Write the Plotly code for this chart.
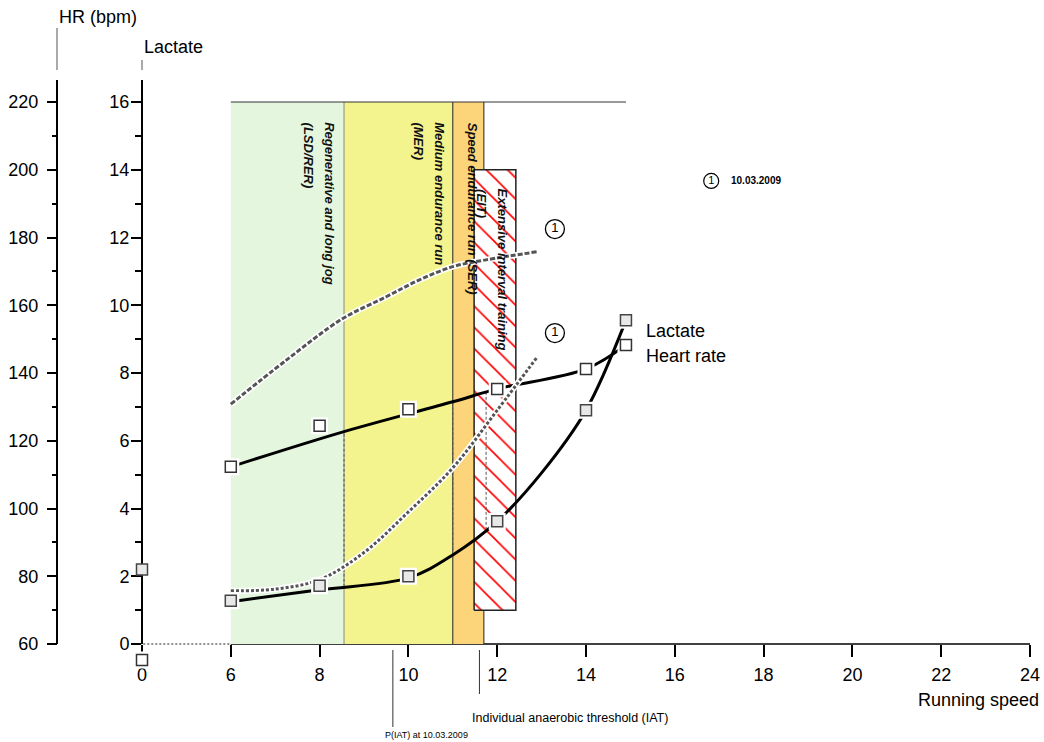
import plotly.graph_objects as go

# ---------------- data ----------------
speed = [6, 8, 10, 12, 14, 14.9]                       # km/h test stages
lactate = [1.28, 1.72, 2.0, 3.62, 6.9, 9.56]            # mmol/l
heart_rate = [112.3, 124.4, 129.3, 135.3, 141.2, 148.3]  # bpm
rest_speed = [0]
rest_lactate = [2.2]
rest_hr = [55.3]

# fitted curves of the current test
lac_fit_x = [6, 8, 10, 11, 12, 13, 14, 14.9]
lac_fit_y = [1.25, 1.6, 1.95, 2.63, 3.62, 5.05, 6.9, 9.56]
hr_fit_x = [6, 8.55, 11, 12, 14, 14.9]
hr_fit_y = [112.3, 122.7, 131.5, 135.3, 141.2, 148.3]

# previous test (1) 10.03.2009
prev_lac_x = [6, 7, 8, 9, 10, 11, 12, 12.9]
prev_lac_y = [1.57, 1.62, 1.9, 2.7, 3.9, 5.2, 6.9, 8.47]
prev_hr_x = [6, 7.25, 8.5, 9.5, 10.25, 11, 11.75, 12.9]
prev_hr_y = [130.8, 143.8, 155.9, 162.5, 167.5, 171.4, 173.4, 175.8]

# training zones (speed edges, HR extent)
zone_edges = [6, 8.55, 11.0, 11.7]
zone_colors = ["#E4F6DE", "#F4F48E", "#FCD47A"]
zone_hr = [60, 220]
zone_line_colors = ["#888888", "#222222", "#222222"]
eit_x = [11.48, 12.42]
eit_hr = [70, 200]
top_line_x = [6, 14.9]

# drop lines between HR and lactate curves (speed, HR low, HR high)
drop_x = [8.55, 11.0, 11.75]
drop_lo = [76.9, 87.7, 93.7]
drop_hi = [122.7, 132.0, 134.1]

iat = 11.6
p_iat = 9.65

x_tickvals = [0, 6, 8, 10, 12, 14, 16, 18, 20, 22, 24]
lac_ticks = list(range(0, 17, 2))
hr_ticks = list(range(60, 221, 20))

# ---------------- layout helpers ----------------
W, H = 1044, 742
ML, MR, MT, MB = 57, 14, 80, 74
plot_w = W - ML - MR
plot_h = H - MT - MB
dom0 = 85 / plot_w
X_MIN, X_MAX = 4, 24            # broken axis: value 0 is drawn at position 4
L_MIN, L_MAX = -24 / 33.875, 16 + 22 / 33.875
HR_MIN, HR_MAX = 60 + 10 * L_MIN, 60 + 10 * L_MAX
x_axis_pos = (0 - L_MIN) / (L_MAX - L_MIN)


def dx(v):
    return X_MIN if v == 0 else v


def px(v):  # x data -> paper
    return dom0 + (dx(v) - X_MIN) / (X_MAX - X_MIN) * (1 - dom0)


def py(pix):  # screen pixel y -> paper
    return (H - MB - pix) / plot_h


FONT = "Liberation Sans, Arial, sans-serif"
fig = go.Figure()

# EIT hatched box (HR axis = main)
fig.add_trace(go.Scatter(
    x=[eit_x[0], eit_x[1], eit_x[1], eit_x[0], eit_x[0]],
    y=[eit_hr[0], eit_hr[0], eit_hr[1], eit_hr[1], eit_hr[0]],
    mode="lines", fill="toself", fillcolor="white",
    fillpattern=dict(shape="\\", fgcolor="#FF0000", bgcolor="white",
                     size=15, solidity=0.11),
    line=dict(color="#222222", width=1.5), hoverinfo="skip", showlegend=False))

# drop lines
for xv, lo, hi in zip(drop_x, drop_lo, drop_hi):
    fig.add_trace(go.Scatter(x=[xv, xv], y=[lo, hi], mode="lines",
                             line=dict(color="#555555", width=1, dash="3px,2px"),
                             showlegend=False, hoverinfo="skip"))

# ---- heart rate (main y axis) ----
hx = [dx(v) for v in rest_speed + speed]
hy = rest_hr + heart_rate
fig.add_trace(go.Scatter(x=prev_hr_x, y=prev_hr_y, mode="lines", line_shape="spline",
                         line=dict(color="white", width=6), showlegend=False))
fig.add_trace(go.Scatter(x=prev_hr_x, y=prev_hr_y, mode="lines", line_shape="spline",
                         line=dict(color="#555555", width=3, dash="5px,2px"), showlegend=False))
fig.add_trace(go.Scatter(x=hr_fit_x, y=hr_fit_y, mode="lines", line_shape="spline",
                         line=dict(color="black", width=3), showlegend=False))
fig.add_trace(go.Scatter(x=hx, y=hy, mode="markers",
                         marker=dict(symbol="square", size=17, color="white", line=dict(width=0)),
                         showlegend=False, cliponaxis=False))
fig.add_trace(go.Scatter(x=hx, y=hy, mode="markers",
                         marker=dict(symbol="square", size=11, color="white",
                                     line=dict(color="#333333", width=1.5)),
                         showlegend=False, cliponaxis=False))

# ---- lactate (overlay axis) ----
lx = [dx(v) for v in rest_speed + speed]
ly = rest_lactate + lactate
fig.add_trace(go.Scatter(x=prev_lac_x, y=prev_lac_y, yaxis="y2", mode="lines", line_shape="spline",
                         line=dict(color="white", width=6), showlegend=False))
fig.add_trace(go.Scatter(x=prev_lac_x, y=prev_lac_y, yaxis="y2", mode="lines", line_shape="spline",
                         line=dict(color="#555555", width=3, dash="3px,2px"), showlegend=False))
fig.add_trace(go.Scatter(x=lac_fit_x, y=lac_fit_y, yaxis="y2", mode="lines", line_shape="spline",
                         line=dict(color="black", width=3), showlegend=False))
fig.add_trace(go.Scatter(x=lx[1:], y=ly[1:], yaxis="y2", mode="markers",
                         marker=dict(symbol="square", size=17, color="white", line=dict(width=0)),
                         showlegend=False, cliponaxis=False))
fig.add_trace(go.Scatter(x=lx, y=ly, yaxis="y2", mode="markers",
                         marker=dict(symbol="square", size=11, color="#E8E8E8",
                                     line=dict(color="#444444", width=1.5)),
                         showlegend=False, cliponaxis=False))

# circled "1" markers
fig.add_trace(go.Scatter(x=[13.3, 13.3], y=[12.25, 9.18], yaxis="y2", mode="markers+text",
                         text=["1", "1"], textposition="middle center",
                         textfont=dict(family=FONT, size=13, color="black"),
                         marker=dict(symbol="circle-open", size=19, color="black",
                                     line=dict(width=1.3)),
                         showlegend=False, cliponaxis=False))
fig.add_trace(go.Scatter(x=[16.82], y=[13.67], yaxis="y2", mode="markers+text",
                         text=["1"], textposition="middle center",
                         textfont=dict(family=FONT, size=11, color="black"),
                         marker=dict(symbol="circle-open", size=15, color="black",
                                     line=dict(width=1.2)),
                         showlegend=False, cliponaxis=False))

# ---------------- shapes ----------------
shapes = []
for i in range(3):
    shapes.append(dict(type="rect", xref="x", yref="y", x0=zone_edges[i], x1=zone_edges[i + 1],
                       y0=zone_hr[0], y1=zone_hr[1], fillcolor=zone_colors[i], line=dict(width=0),
                       layer="below"))
for i in range(3):
    shapes.append(dict(type="line", xref="x", yref="y", x0=zone_edges[i + 1], x1=zone_edges[i + 1],
                       y0=zone_hr[0], y1=zone_hr[1], line=dict(color=zone_line_colors[i], width=1),
                       layer="below"))
shapes.append(dict(type="line", xref="x", yref="y", x0=top_line_x[0], x1=top_line_x[1],
                   y0=zone_hr[1], y1=zone_hr[1], line=dict(color="#333333", width=1), layer="below"))
# axis lines
shapes.append(dict(type="line", xref="paper", yref="paper", x0=px(6), x1=px(24),
                   y0=x_axis_pos, y1=x_axis_pos, line=dict(color="black", width=1.5), layer="below"))
shapes.append(dict(type="line", xref="paper", yref="paper", x0=px(0) - 0.011, x1=px(6),
                   y0=x_axis_pos, y1=x_axis_pos, line=dict(color="#222222", width=1, dash="2px,2px"),
                   layer="below"))
shapes.append(dict(type="line", xref="paper", yref="paper", x0=0, x1=0, y0=x_axis_pos, y1=1,
                   line=dict(color="black", width=2), layer="below"))
shapes.append(dict(type="line", xref="paper", yref="paper", x0=dom0, x1=dom0, y0=x_axis_pos, y1=1,
                   line=dict(color="black", width=2), layer="below"))
# axis break segments above the axes
shapes.append(dict(type="line", xref="paper", yref="paper", x0=0, x1=0, y0=py(70), y1=py(28),
                   line=dict(color="#555555", width=1)))
shapes.append(dict(type="line", xref="paper", yref="paper", x0=dom0, x1=dom0, y0=py(70), y1=py(60),
                   line=dict(color="#555555", width=1)))
# IAT marker lines below the axis
shapes.append(dict(type="line", xref="paper", yref="paper", x0=px(p_iat), x1=px(p_iat),
                   y0=py(650), y1=py(727), line=dict(color="#333333", width=1)))
shapes.append(dict(type="line", xref="paper", yref="paper", x0=px(iat), x1=px(iat),
                   y0=py(650), y1=py(694), line=dict(color="#333333", width=1)))

# ---------------- annotations ----------------
ann = []
zone_font = dict(family=FONT, size=13, color="#111111")
zone_texts = [
    ("Regenerative and long jog", 8.234, 15.45),
    ("(LSD/RER)", 7.74, 15.45),
    ("Medium endurance run", 10.71, 15.45),
    ("(MER)", 10.22, 15.45),
    ("Speed endurance run (SER)", 11.43, 15.45),
    ("Extensive interval training", 12.11, 13.5),
    ("(EIT)", 11.66, 13.5),
]
for t, xv, yv in zone_texts:
    ann.append(dict(text="<b><i>" + t + "</i></b>", x=xv, y=yv, xref="x", yref="y2", textangle=90,
                    xanchor="center", yanchor="top", showarrow=False, font=zone_font))

big = dict(family=FONT, size=18, color="black")
ann.append(dict(text="Lactate", x=15.31, y=9.24, xref="x", yref="y2", xanchor="left",
                yanchor="middle", showarrow=False, font=big))
ann.append(dict(text="Heart rate", x=15.31, y=8.5, xref="x", yref="y2", xanchor="left",
                yanchor="middle", showarrow=False, font=big))
ann.append(dict(text="<b>10.03.2009</b>", x=17.22, y=13.67, xref="x", yref="y2", xanchor="left",
                yanchor="middle", showarrow=False, font=dict(family=FONT, size=10, color="black")))
ann.append(dict(text="HR (bpm)", x=0, y=py(17), xref="paper", yref="paper", xanchor="left",
                yanchor="middle", showarrow=False, font=big))
ann.append(dict(text="Lactate", x=dom0, y=py(47), xref="paper", yref="paper", xanchor="left",
                yanchor="middle", showarrow=False, font=big))
ann.append(dict(text="Running speed", x=(1041 - ML) / plot_w, y=py(700), xref="paper", yref="paper",
                xanchor="right", yanchor="middle", showarrow=False, font=big))
ann.append(dict(text="Individual anaerobic threshold (IAT)", x=px(13.63), y=py(718),
                xref="paper", yref="paper", xanchor="center", yanchor="middle", showarrow=False,
                font=dict(family=FONT, size=12.5, color="black")))
ann.append(dict(text="P(IAT) at 10.03.2009", x=px(10.4), y=py(735),
                xref="paper", yref="paper", xanchor="center", yanchor="middle", showarrow=False,
                font=dict(family=FONT, size=9, color="black")))

fig.update_layout(
    template="none",
    width=W, height=H, autosize=False,
    margin=dict(l=ML, r=MR, t=MT, b=MB, pad=0),
    paper_bgcolor="white", plot_bgcolor="rgba(0,0,0,0)",
    font=dict(family=FONT, size=18, color="black"),
    showlegend=False,
    shapes=shapes, annotations=ann,
    xaxis=dict(domain=[dom0, 1], range=[X_MIN, X_MAX], tickmode="array",
               tickvals=[dx(v) for v in x_tickvals], ticktext=[str(v) for v in x_tickvals],
               ticks="outside", ticklen=12, tickwidth=1.5, tickcolor="black",
               anchor="free", position=x_axis_pos,
               showline=False, showgrid=False, zeroline=False, layer="below traces",
               automargin=False, tickfont=dict(family=FONT, size=18), ticklabelstandoff=2),
    yaxis=dict(range=[HR_MIN, HR_MAX], tickmode="array", tickvals=hr_ticks,
               ticks="outside", ticklen=10, tickwidth=1.5, tickcolor="black",
               minor=dict(dtick=10, tick0=60, ticks="outside", ticklen=5, tickwidth=1.5,
                          tickcolor="black", showgrid=False),
               showline=False, showgrid=False, zeroline=False,
               anchor="free", position=0, side="left", automargin=False,
               layer="below traces", tickfont=dict(family=FONT, size=18), ticklabelstandoff=5),
    yaxis2=dict(range=[L_MIN, L_MAX], tickmode="array", tickvals=lac_ticks,
                ticks="outside", ticklen=10, tickwidth=1.5, tickcolor="black",
                minor=dict(dtick=1, tick0=1, ticks="outside", ticklen=6, tickwidth=1.5,
                           tickcolor="black", showgrid=False),
                showline=False, showgrid=False, zeroline=False,
                overlaying="y", anchor="x", side="left", automargin=False,
                layer="below traces", tickfont=dict(family=FONT, size=18), ticklabelstandoff=-2),
)

fig.write_html("out.html", config={"displayModeBar": False},
               post_script="document.body.style.margin='0';document.body.style.overflow='hidden';")
